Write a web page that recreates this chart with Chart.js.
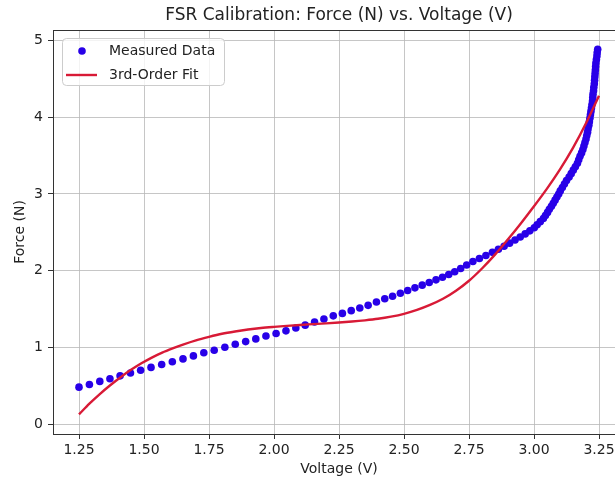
<!DOCTYPE html>
<html>
<head>
<meta charset="utf-8">
<script src="https://cdn.jsdelivr.net/npm/chart.js@4.4.0/dist/chart.umd.min.js"></script>
<style>
  html, body { margin: 0; padding: 0; background: #fff; overflow: hidden; }
  #wrap { width: 615px; height: 483px; overflow: hidden; }
</style>
</head>
<body>
<div id="wrap"><canvas id="chart" width="650" height="483"></canvas></div>
<script>
// measured samples (voltage, force)
const measuredVoltage = [
  1.250, 1.290, 1.330, 1.369, 1.408, 1.448, 1.487, 1.527, 1.568, 1.609,
  1.650, 1.690, 1.730, 1.770, 1.811, 1.851, 1.891, 1.930, 1.969, 2.008,
  2.046, 2.084, 2.120, 2.156, 2.192, 2.228, 2.263, 2.297, 2.330, 2.362,
  2.394, 2.426, 2.456, 2.486, 2.514, 2.542, 2.570, 2.597, 2.623, 2.648,
  2.672, 2.695, 2.718, 2.741, 2.765, 2.790, 2.815, 2.840, 2.863, 2.885,
  2.906, 2.927, 2.947, 2.966, 2.984, 3.001, 3.012, 3.024, 3.036, 3.044,
  3.052, 3.059, 3.067, 3.074, 3.081, 3.088, 3.095, 3.101, 3.109, 3.117,
  3.125, 3.135, 3.143, 3.151, 3.159, 3.167, 3.172, 3.177, 3.183, 3.188,
  3.192, 3.196, 3.200, 3.203, 3.206, 3.208, 3.211, 3.213, 3.215, 3.217,
  3.219, 3.221, 3.223, 3.225, 3.226, 3.227, 3.229, 3.230, 3.232, 3.233,
  3.234, 3.235, 3.236, 3.237, 3.238, 3.240, 3.242, 3.243, 3.245
];
const measuredForce = [
  0.485, 0.520, 0.560, 0.595, 0.632, 0.670, 0.705, 0.742, 0.780, 0.815,
  0.853, 0.892, 0.932, 0.966, 1.004, 1.043, 1.078, 1.113, 1.150, 1.183,
  1.218, 1.255, 1.292, 1.333, 1.372, 1.413, 1.445, 1.481, 1.516, 1.550,
  1.593, 1.635, 1.668, 1.708, 1.743, 1.778, 1.813, 1.848, 1.882, 1.915,
  1.952, 1.988, 2.030, 2.075, 2.120, 2.160, 2.200, 2.240, 2.280, 2.320,
  2.360, 2.400, 2.440, 2.480, 2.520, 2.560, 2.600, 2.640, 2.680, 2.720,
  2.760, 2.800, 2.840, 2.880, 2.920, 2.960, 3.000, 3.040, 3.085, 3.130,
  3.175, 3.220, 3.265, 3.310, 3.355, 3.400, 3.445, 3.490, 3.535, 3.580,
  3.625, 3.670, 3.715, 3.760, 3.805, 3.850, 3.895, 3.940, 3.985, 4.030,
  4.075, 4.120, 4.165, 4.210, 4.255, 4.300, 4.345, 4.390, 4.435, 4.480,
  4.525, 4.570, 4.615, 4.660, 4.705, 4.750, 4.795, 4.840, 4.885
];

// 3rd-order fit curve
const fitVoltage = [
  1.25, 1.29, 1.33, 1.37, 1.41, 1.45, 1.49, 1.53, 1.57, 1.61,
  1.65, 1.70, 1.75, 1.80, 1.85, 1.90, 1.95, 2.00, 2.05, 2.10,
  2.15, 2.20, 2.25, 2.30, 2.35, 2.40, 2.45, 2.50, 2.55, 2.60,
  2.65, 2.70, 2.75, 2.80, 2.85, 2.90, 2.95, 3.00, 3.05, 3.10,
  3.15, 3.20, 3.25
];
const fitForce = [
  0.13, 0.27, 0.395, 0.51, 0.615, 0.71, 0.795, 0.87, 0.935, 0.99,
  1.04, 1.095, 1.14, 1.18, 1.21, 1.235, 1.255, 1.27, 1.283, 1.295,
  1.305, 1.315, 1.326, 1.339, 1.355, 1.375, 1.403, 1.44, 1.49, 1.555,
  1.635, 1.74, 1.87, 2.03, 2.21, 2.41, 2.62, 2.84, 3.07, 3.32,
  3.60, 3.92, 4.28
];

const xTicks = [1.25, 1.50, 1.75, 2.00, 2.25, 2.50, 2.75, 3.00, 3.25];
const yTicks = [0, 1, 2, 3, 4, 5];

const FONT = "'DejaVu Sans', sans-serif";
const TEXT = '#222';
const DOT_COLOR = 'rgb(40,0,232)';
const FIT_COLOR = '#d81a36';
const GRID = '#b8b8b8';

// top spine (matplotlib draws a box round the axes)
const framePlugin = {
  id: 'frame',
  afterDraw(chart) {
    const { ctx, chartArea: a } = chart;
    ctx.save();
    ctx.strokeStyle = '#333';
    ctx.lineWidth = 1;
    ctx.beginPath();
    ctx.moveTo(a.left, Math.round(a.top) + 0.5);
    ctx.lineTo(a.right, Math.round(a.top) + 0.5);
    ctx.lineTo(a.right, a.bottom);
    ctx.stroke();
    ctx.restore();
  }
};

// legend box in the upper left corner of the plot
const boxLegend = {
  id: 'boxLegend',
  afterDraw(chart) {
    const { ctx, chartArea: a } = chart;
    const ds = chart.data.datasets;
    const x = a.left + 9, y = a.top + 8, w = 162, h = 47;
    ctx.save();
    ctx.beginPath();
    ctx.roundRect(x + 0.5, y + 0.5, w, h, 4);
    ctx.fillStyle = 'rgba(255,255,255,0.8)';
    ctx.fill();
    ctx.strokeStyle = '#cccccc';
    ctx.lineWidth = 1;
    ctx.stroke();

    ctx.font = '14px ' + FONT;
    ctx.fillStyle = TEXT;
    ctx.textBaseline = 'middle';

    // scatter entry
    const scatter = ds[1];
    ctx.beginPath();
    ctx.arc(x + 20, y + 13, scatter.pointRadius, 0, Math.PI * 2);
    ctx.fillStyle = scatter.backgroundColor;
    ctx.fill();
    ctx.fillStyle = TEXT;
    ctx.fillText(scatter.label, x + 47, y + 13);

    // line entry
    const fit = ds[0];
    ctx.beginPath();
    ctx.moveTo(x + 4, y + 37);
    ctx.lineTo(x + 35, y + 37);
    ctx.strokeStyle = fit.borderColor;
    ctx.lineWidth = fit.borderWidth;
    ctx.stroke();
    ctx.fillText(fit.label, x + 47, y + 37);
    ctx.restore();
  }
};

const ctx = document.getElementById('chart').getContext('2d');
new Chart(ctx, {
  data: {
    datasets: [
      {
        type: 'line',
        label: '3rd-Order Fit',
        data: fitVoltage.map((v, i) => ({ x: v, y: fitForce[i] })),
        borderColor: FIT_COLOR,
        borderWidth: 2.4,
        pointRadius: 0,
        cubicInterpolationMode: 'monotone',
        fill: false,
        order: 0
      },
      {
        type: 'scatter',
        label: 'Measured Data',
        data: measuredVoltage.map((v, i) => ({ x: v, y: measuredForce[i] })),
        backgroundColor: DOT_COLOR,
        borderWidth: 0,
        pointRadius: 3.8,
        order: 1
      }
    ]
  },
  options: {
    responsive: false,
    devicePixelRatio: 1,
    animation: false,
    layout: { padding: { left: 0, right: 25, top: 0, bottom: 0 } },
    plugins: {
      legend: { display: false },
      tooltip: { enabled: false },
      title: {
        display: true,
        fullSize: false,
        text: 'FSR Calibration: Force (N) vs. Voltage (V)',
        color: TEXT,
        font: { family: FONT, size: 17, weight: 'normal', lineHeight: 1.2 },
        padding: { top: 5, bottom: 4.6 }
      }
    },
    scales: {
      x: {
        type: 'linear',
        min: 1.15,
        max: 3.35,
        afterBuildTicks: s => { s.ticks = xTicks.map(v => ({ value: v })); },
        afterFit: s => { s.height = 49; },
        ticks: {
          color: TEXT,
          font: { family: FONT, size: 14 },
          padding: 3,
          maxRotation: 0,
          callback: v => Number(v).toFixed(2)
        },
        grid: { color: GRID, lineWidth: 0.8, tickColor: '#333', tickLength: 5, tickWidth: 1 },
        border: { display: true, color: '#333', width: 1 },
        title: {
          display: true,
          text: 'Voltage (V)',
          color: TEXT,
          font: { family: FONT, size: 14, lineHeight: 1.2 },
          padding: { top: 0, bottom: 5.6 }
        }
      },
      y: {
        type: 'linear',
        min: -0.125,
        max: 5.135,
        afterBuildTicks: s => { s.ticks = yTicks.map(v => ({ value: v })); },
        afterFit: s => { s.width = 53; },
        ticks: {
          color: TEXT,
          font: { family: FONT, size: 14 },
          padding: 5,
          callback: v => String(v)
        },
        grid: { color: GRID, lineWidth: 0.8, tickColor: '#333', tickLength: 5, tickWidth: 1 },
        border: { display: true, color: '#333', width: 1 },
        title: {
          display: true,
          text: 'Force (N)',
          color: TEXT,
          font: { family: FONT, size: 14, lineHeight: 1.2 },
          padding: { top: 12, bottom: 0 }
        }
      }
    }
  },
  plugins: [framePlugin, boxLegend]
});
</script>
</body>
</html>
